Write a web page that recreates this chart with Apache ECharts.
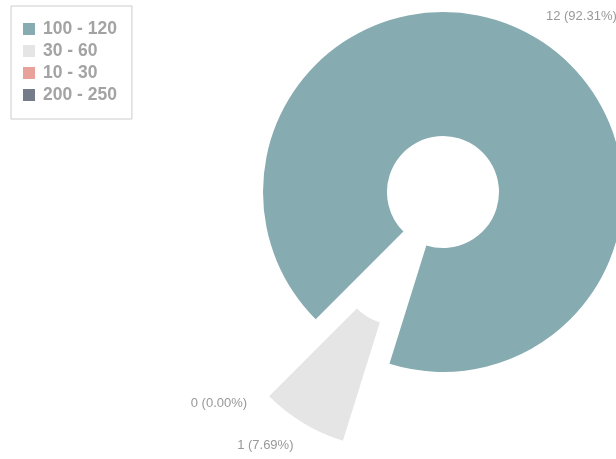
<!DOCTYPE html>
<html>
<head>
<meta charset="utf-8">
<script src="https://cdn.jsdelivr.net/npm/echarts@6/dist/echarts.min.js"></script>
<style>html,body{margin:0;padding:0;background:#fff}#c{width:616px;height:459px}</style>
</head>
<body>
<div id="c"></div>
<script>
var categories = ['100 - 120', '30 - 60', '10 - 30', '200 - 250'];
var values = [12, 1, 0, null];
var colors = ['#86abb0', '#e5e5e5', '#e8a19b', '#747b89'];
var pulledOut = [false, true, true, false];

// label styling per slice: which rich style to use and label distance
var labelStyleKey = ['up', 'down', 'downFar', 'down'];
var labelDistance = [19, 19, 7, 19];

var data = categories.map(function (name, i) {
  return {
    name: name,
    value: values[i] === null ? '-' : values[i],
    selected: pulledOut[i],
    itemStyle: { color: colors[i] },
    labelLine: { show: false, length: labelDistance[i], length2: 0 }
  };
});

var chart = echarts.init(document.getElementById('c'));
chart.setOption({
  animation: false,
  legend: {
    orient: 'vertical',
    left: 11,
    top: 6,
    padding: [14, 15, 15, 12],
    borderColor: '#cccccc',
    borderWidth: 1,
    itemWidth: 12,
    itemHeight: 12,
    itemGap: 4,
    icon: 'rect',
    selectedMode: false,
    textStyle: { fontSize: 17.5, lineHeight: 18, fontWeight: 'bold', color: '#a3a3a3', fontFamily: 'Liberation Sans', padding: [0, 0, 0, 3] },
    data: categories
  },
  series: [{
    type: 'pie',
    center: [443, 192],
    radius: [56, 180],
    startAngle: 225,
    clockwise: true,
    selectedMode: 'multiple',
    selectedOffset: 90,
    avoidLabelOverlap: false,
    emphasis: { disabled: true },
    select: { itemStyle: { borderWidth: 0 } },
    label: {
      show: true,
      position: 'outside',
      formatter: function (p) {
        var pct = Number(p.percent || 0).toFixed(2);
        var v = (p.value === undefined || p.value === null) ? 0 : p.value;
        return '{' + labelStyleKey[p.dataIndex] + '|' + v + ' (' + pct + '%)}';
      },
      color: '#999999',
      fontSize: 13,
      fontFamily: 'Liberation Sans',
      overflow: 'none',
      distanceToLabelLine: 0,
      rich: {
        up: { color: '#999999', fontSize: 13, fontFamily: 'Liberation Sans', lineHeight: 15, padding: [0, 0, 10, 0] },
        down: { color: '#999999', fontSize: 13, fontFamily: 'Liberation Sans', lineHeight: 15, padding: [12, 0, 0, 0] },
        downFar: { color: '#999999', fontSize: 13, fontFamily: 'Liberation Sans', lineHeight: 15, padding: [32, 0, 0, 0] }
      }
    },
    labelLine: { show: false, length: 19, length2: 0 },
    data: data
  }]
});
</script>
</body>
</html>
